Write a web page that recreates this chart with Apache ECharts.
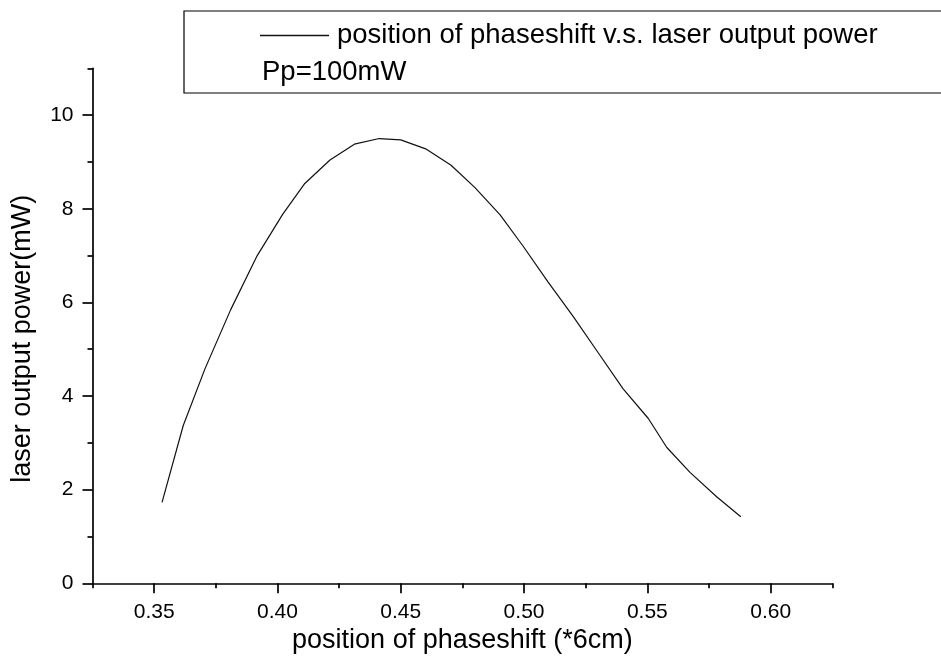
<!DOCTYPE html>
<html><head><meta charset="utf-8">
<script src="https://cdn.jsdelivr.net/npm/echarts@6/dist/echarts.min.js"></script>
<style>html,body{margin:0;padding:0;background:#fff}#c{width:941px;height:666px}</style>
</head><body><div id="c"></div>
<script>
const xValues = [0.3532,0.3618,0.3706,0.3810,0.3918,0.4021,0.4111,0.4213,0.4312,0.4413,0.4500,0.4601,0.4704,0.4801,0.4903,0.4995,0.5097,0.5199,0.5300,0.5401,0.5504,0.5579,0.5673,0.5781,0.5879];
const yValues = [1.73,3.37,4.58,5.84,7.00,7.88,8.54,9.04,9.38,9.50,9.47,9.28,8.93,8.45,7.87,7.21,6.44,5.70,4.93,4.16,3.52,2.90,2.37,1.85,1.42];
const xMajorTicks = [0.35,0.40,0.45,0.50,0.55,0.60];
const xMinorTicks = [0.325,0.375,0.425,0.475,0.525,0.575,0.625];
const yMajorTicks = [0,2,4,6,8,10];
const yMinorTicks = [1,3,5,7,9,11];
const seriesName = 'position of phaseshift v.s. laser output power';
const noteText = 'Pp=100mW';
const xTitle = 'position of phaseshift (*6cm)';
const yTitle = 'laser output power(mW)';

const FONT = 'Liberation Sans, Arial, sans-serif';
const chart = echarts.init(document.getElementById('c'), null, {renderer: 'canvas'});
const axisLine = {show: true, lineStyle: {color: '#000', width: 1.7}};
const points = xValues.map((x, i) => [x, yValues[i]]);

chart.setOption({
  animation: false,
  backgroundColor: '#fff',
  grid: {left: 92.5, right: 108.7, top: 68.3, bottom: 82.7, containLabel: false, outerBoundsMode: 'none'},
  legend: {
    left: 260, top: 21.5, padding: 0, itemWidth: 69, itemHeight: 1.5,
    data: [{name: seriesName, icon: 'rect'}],
    textStyle: {fontSize: 27.5, fontFamily: FONT, color: '#000', padding: [0, 0, 0, 3]}
  },
  graphic: [
    {type: 'rect', z: -1, shape: {x: 184, y: 11, width: 800, height: 82}, style: {fill: '#fff', stroke: '#000', lineWidth: 1.2}},
    {type: 'text', style: {x: 262, y: 72, text: noteText, font: '27.5px ' + FONT, fill: '#000', verticalAlign: 'middle'}}
  ],
  xAxis: [
    {type: 'value', min: 0.325, max: 0.625, position: 'bottom',
     name: xTitle, nameLocation: 'middle', nameGap: 34,
     nameTextStyle: {fontSize: 27, fontFamily: FONT, color: '#000'},
     axisLine: axisLine,
     axisTick: {show: true, length: 10, lineStyle: {color: '#000', width: 1.7}, customValues: xMajorTicks},
     axisLabel: {show: true, customValues: xMajorTicks, margin: 18, fontSize: 21, fontFamily: FONT, color: '#000',
                 formatter: v => Number(v).toFixed(2)},
     splitLine: {show: false}},
    {type: 'value', min: 0.325, max: 0.625, position: 'bottom', offset: 0,
     axisLine: {show: false},
     axisTick: {show: true, length: 5, lineStyle: {color: '#000', width: 1.7}, customValues: xMinorTicks},
     axisLabel: {show: false}, splitLine: {show: false}}
  ],
  yAxis: [
    {type: 'value', min: 0, max: 11, position: 'left',
     name: yTitle, nameLocation: 'middle', nameGap: 56, nameRotate: 90,
     nameTextStyle: {fontSize: 27, fontFamily: FONT, color: '#000', padding: [0, 26, 0, 0]},
     axisLine: axisLine,
     axisTick: {show: true, length: 10, lineStyle: {color: '#000', width: 1.7}, customValues: yMajorTicks},
     axisLabel: {show: true, customValues: yMajorTicks, margin: 19, fontSize: 21, fontFamily: FONT, color: '#000'},
     splitLine: {show: false}},
    {type: 'value', min: 0, max: 11, position: 'left', offset: 0,
     axisLine: {show: false},
     axisTick: {show: true, length: 5, lineStyle: {color: '#000', width: 1.7}, customValues: yMinorTicks},
     axisLabel: {show: false}, splitLine: {show: false}}
  ],
  series: [{
    name: seriesName, type: 'line', xAxisIndex: 0, yAxisIndex: 0,
    data: points, symbol: 'none', smooth: false,
    lineStyle: {color: '#111', width: 1.2}, itemStyle: {color: '#111'}
  }]
});
</script></body></html>
